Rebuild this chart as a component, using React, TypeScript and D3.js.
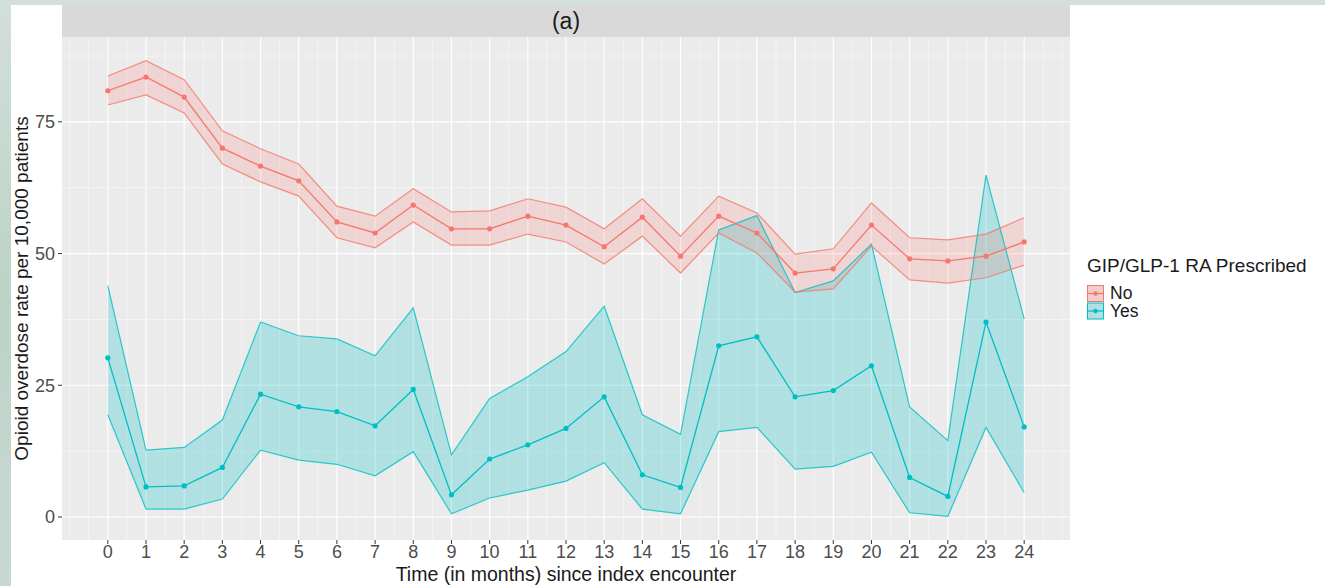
import React from "react";
import * as d3 from "d3";

// months since index encounter
const months = d3.range(0, 25);

// GIP/GLP-1 RA not prescribed
const noRate = [80.9, 83.5, 79.7, 70.0, 66.6, 63.8, 56.0, 53.9, 59.2, 54.7, 54.7, 57.1, 55.4,
  51.3, 56.9, 49.5, 57.1, 53.9, 46.3, 47.1, 55.4, 49.0, 48.6, 49.5, 52.2];
const noLower = [78.2, 80.1, 76.7, 67.0, 63.6, 60.9, 53.0, 51.1, 56.0, 51.6, 51.6, 53.7, 52.2,
  48.0, 53.3, 46.3, 53.9, 50.1, 42.7, 43.3, 51.4, 45.0, 44.4, 45.4, 47.8];
const noUpper = [83.7, 86.6, 83.0, 73.3, 69.9, 67.0, 59.0, 57.1, 62.3, 57.9, 58.1, 60.4, 58.8,
  54.7, 60.4, 53.3, 60.9, 57.7, 49.9, 50.9, 59.6, 53.0, 52.6, 53.7, 56.8];

// GIP/GLP-1 RA prescribed
const yesRate = [30.2, 5.7, 5.9, 9.4, 23.3, 20.9, 20.0, 17.3, 24.2, 4.2, 11.0, 13.7, 16.8,
  22.8, 8.0, 5.6, 32.5, 34.2, 22.8, 24.0, 28.7, 7.5, 3.9, 37.0, 17.1];
const yesLower = [19.4, 1.5, 1.5, 3.4, 12.7, 10.8, 10.0, 7.8, 12.4, 0.6, 3.6, 5.1, 6.8,
  10.3, 1.5, 0.6, 16.2, 17.0, 9.1, 9.6, 12.3, 0.8, 0.1, 17.0, 4.6];
const yesUpper = [43.9, 12.7, 13.2, 18.4, 37.0, 34.4, 33.8, 30.6, 39.7, 11.8, 22.5, 26.6, 31.4,
  40.0, 19.4, 15.7, 54.5, 57.2, 42.6, 44.8, 51.8, 20.9, 14.5, 64.9, 37.6];

const yTicks = [0, 25, 50, 75];
const groups = ["No", "Yes"];
const colors = ["#F8766D", "#00BFC4"];

export default function App() {
  const W = 1325, H = 586;
  const panel = { left: 62, right: 1070, top: 37, bottom: 540 };

  const x = d3.scaleLinear().domain([-1.2, 25.2]).range([panel.left, panel.right]);
  const y = d3.scaleLinear().domain([-4.37, 91.1]).range([panel.bottom, panel.top]);

  const series = [
    { rate: noRate, lo: noLower, hi: noUpper },
    { rate: yesRate, lo: yesLower, hi: yesUpper },
  ];

  const area = (lo: number[], hi: number[]) =>
    d3.area<number>().x((m) => x(m)).y0((m, i) => y(lo[i])).y1((m, i) => y(hi[i]))(months) || "";
  const line = (v: number[]) => d3.line<number>().x((m) => x(m)).y((m, i) => y(v[i]))(months) || "";

  const minorX = d3.range(-2, 51).map((k) => k / 2).filter((v) => !(Number.isInteger(v) && v >= 0 && v <= 24))
    .filter((v) => x(v) > panel.left && x(v) < panel.right);
  const minorY = [12.5, 37.5, 62.5, 87.5];
  const font = "'Liberation Sans', Arial, sans-serif";

  return (
    <svg width={W} height={H} style={{ position: "absolute", left: 0, top: 0 }} fontFamily={font}>
      <defs>
        <linearGradient id="bg" x1="0" y1="0" x2="0" y2="1">
          <stop offset="0" stopColor="#d3dfda" />
          <stop offset="0.5" stopColor="#bcd3c6" />
          <stop offset="1" stopColor="#c9d8d5" />
        </linearGradient>
      </defs>
      <rect width={W} height={H} fill="url(#bg)" />
      <rect x={11} y={5} width={W - 11} height={H - 5} fill="#fff" />

      {/* strip */}
      <rect x={panel.left} y={5} width={panel.right - panel.left} height={panel.top - 5} fill="#D9D9D9" />
      <text x={(panel.left + panel.right) / 2} y={29} fontSize={23} textAnchor="middle" fill="#1a1a1a">(a)</text>

      {/* panel */}
      <rect x={panel.left} y={panel.top} width={panel.right - panel.left} height={panel.bottom - panel.top} fill="#EBEBEB" />
      {minorY.map((v) => (
        <line key={"my" + v} x1={panel.left} x2={panel.right} y1={y(v)} y2={y(v)} stroke="#fff" strokeWidth={0.6} opacity={0.8} />
      ))}
      {minorX.map((v) => (
        <line key={"mx" + v} x1={x(v)} x2={x(v)} y1={panel.top} y2={panel.bottom} stroke="#fff" strokeWidth={0.6} opacity={0.8} />
      ))}
      {yTicks.map((v) => (
        <line key={"gy" + v} x1={panel.left} x2={panel.right} y1={y(v)} y2={y(v)} stroke="#fff" strokeWidth={1.2} />
      ))}
      {months.map((m) => (
        <line key={"gx" + m} x1={x(m)} x2={x(m)} y1={panel.top} y2={panel.bottom} stroke="#fff" strokeWidth={1.2} />
      ))}

      {/* ribbons */}
      {[1, 0].map((g) => (
        <path key={"rib" + g} d={area(series[g].lo, series[g].hi)} fill={colors[g]} fillOpacity={g === 1 ? 0.25 : 0.2} />
      ))}
      {[1, 0].map((g) => (
        <g key={"ln" + g} fill="none" stroke={colors[g]}>
          <path d={line(series[g].lo)} strokeWidth={1.2} strokeOpacity={0.8} />
          <path d={line(series[g].hi)} strokeWidth={1.2} strokeOpacity={0.8} />
          <path d={line(series[g].rate)} strokeWidth={1.3} />
          {months.map((m, i) => (
            <circle key={m} cx={x(m)} cy={y(series[g].rate[i])} r={2.6} fill={colors[g]} stroke="none" />
          ))}
        </g>
      ))}

      {/* y axis */}
      {yTicks.map((v) => (
        <g key={"ty" + v}>
          <line x1={panel.left - 4} x2={panel.left} y1={y(v)} y2={y(v)} stroke="#333" strokeWidth={1} />
          <text x={panel.left - 7} y={y(v)} dy="0.36em" fontSize={18} textAnchor="end" fill="#4D4D4D">{v}</text>
        </g>
      ))}
      <text transform={`translate(28, ${(panel.top + panel.bottom) / 2}) rotate(-90)`} fontSize={19} textAnchor="middle" fill="#1a1a1a">
        Opioid overdose rate per 10,000 patients
      </text>

      {/* x axis */}
      {months.map((m) => (
        <g key={"tx" + m}>
          <line x1={x(m)} x2={x(m)} y1={panel.bottom} y2={panel.bottom + 4} stroke="#333" strokeWidth={1} />
          <text x={x(m)} y={558} fontSize={18} textAnchor="middle" fill="#4D4D4D">{m}</text>
        </g>
      ))}
      <text x={(panel.left + panel.right) / 2} y={581} fontSize={19.5} textAnchor="middle" fill="#1a1a1a">
        Time (in months) since index encounter
      </text>

      {/* legend */}
      <text x={1087} y={272} fontSize={19} fill="#1a1a1a">GIP/GLP-1 RA Prescribed</text>
      {groups.map((gname, g) => {
        const ky = 285 + g * 17.5;
        return (
          <g key={gname}>
            <rect x={1087} y={ky} width={17} height={17} fill="#EBEBEB" />
            <rect x={1087.5} y={ky + 0.5} width={16} height={16} fill={colors[g]} fillOpacity={0.25} stroke={colors[g]} strokeWidth={1} />
            <line x1={1087} x2={1104} y1={ky + 8.5} y2={ky + 8.5} stroke={colors[g]} strokeWidth={1.2} />
            <circle cx={1095.5} cy={ky + 8.5} r={2.2} fill={colors[g]} />
            <text x={1110} y={ky + 8.5} dy="0.34em" fontSize={17.5} fill="#1a1a1a">{gname}</text>
          </g>
        );
      })}
    </svg>
  );
}
